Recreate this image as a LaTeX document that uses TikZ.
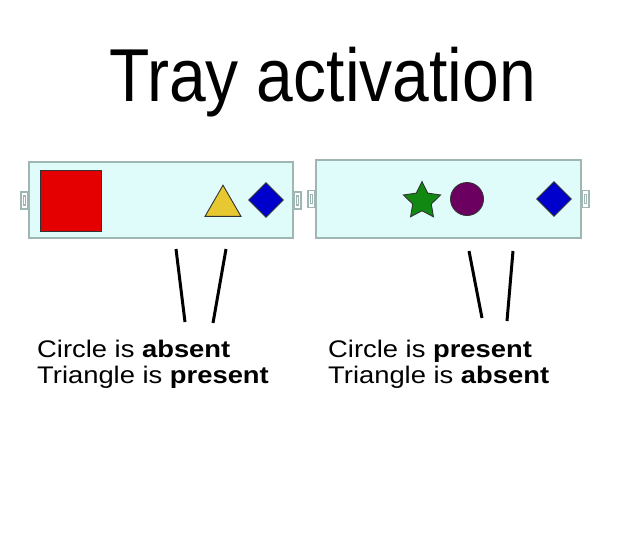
\documentclass[tikz,border=0pt]{standalone}
\usepackage{fontspec}
\setmainfont{Liberation Sans}
\newfontfamily\titlefont[FakeStretch=0.88]{Liberation Sans}
\newfontfamily\bodyfont[FakeStretch=1.14]{Liberation Sans}
\usepackage{xcolor}
\usetikzlibrary{shapes.geometric, calc}

\definecolor{trayFill}{RGB}{224,252,250}
\definecolor{trayEdge}{RGB}{160,182,178}
\definecolor{redSq}{RGB}{228,0,0}
\definecolor{yellowTri}{RGB}{232,200,48}
\definecolor{blueDia}{RGB}{0,0,204}
\definecolor{greenStar}{RGB}{17,136,17}
\definecolor{purpleDot}{RGB}{108,0,96}

\begin{document}
\begin{tikzpicture}[x=1pt, y=-1pt,
    % ── trays ──
    tray/.style      = {draw=trayEdge, fill=trayFill, line width=1.4pt,
                        inner sep=0pt},
    plugline/.style  = {draw=trayEdge, fill=white, line width=1.4pt},
    plug/.pic        = {\draw[plugline] (-3.6,-8.5) rectangle (3.6,8.5);
                        \draw[plugline] (-1.1,-4.5) rectangle (1.1,4.5);},
    % ── shapes ──
    shapeBox/.style  = {draw=black!80, line width=0.9pt, inner sep=0pt},
    % ── lines and text ──
    pointer/.style   = {line width=3pt, black},
    bodyLabel/.style = {font=\bodyfont\fontsize{24}{28}\selectfont,
                        anchor=base west, inner sep=0pt},
]
\useasboundingbox (0,0) rectangle (619,542);

% =====================================================================
% Title
% =====================================================================
\node[font=\titlefont\fontsize{75}{80}\selectfont, anchor=base,
      inner sep=0pt] (title) at (322.5,101) {Tray activation};

% =====================================================================
% Tray 1   (x = 29 – 293)
% =====================================================================
\node[tray, minimum width=264, minimum height=76] (t1) at (161,200) {};
\pic at ($(t1.west)+(-3.8,0.5)$) {plug};
\pic at ($(t1.east)+(3.8,0.5)$) {plug};

\node[shapeBox, fill=redSq, minimum size=61] (sq) at (70.5,200.5) {};
\node[shapeBox, fill=yellowTri, regular polygon, regular polygon sides=3,
      minimum size=41.6] (tri) at (223,206) {};
\node[shapeBox, fill=blueDia, diamond, minimum size=35] (dia1)
  at (266,200) {};

% =====================================================================
% Tray 2   (x = 316 – 581)
% =====================================================================
\node[tray, minimum width=265, minimum height=78] (t2) at (448.5,199) {};
\pic at ($(t2.west)+(-3.8,0)$) {plug};
\pic at ($(t2.east)+(3.8,0)$) {plug};

\node[shapeBox, fill=greenStar, star, star points=5,
      star point ratio=2.0, minimum size=39] (star) at (422,201) {};
\node[shapeBox, fill=purpleDot, circle, minimum size=33] (dot)
  at (467,199) {};
\node[shapeBox, fill=blueDia, diamond, minimum size=35] (dia2)
  at (554,199) {};

% =====================================================================
% Pointers
% =====================================================================
\coordinate (a1) at (176,249);  \coordinate (a2) at (185,322);
\coordinate (b1) at (226,249);  \coordinate (b2) at (213,323);
\coordinate (c1) at (469,251);  \coordinate (c2) at (482,318);
\coordinate (d1) at (513,251);  \coordinate (d2) at (507,321);
\draw[pointer] (a1) -- (a2);
\draw[pointer] (b1) -- (b2);
\draw[pointer] (c1) -- (c2);
\draw[pointer] (d1) -- (d2);

% =====================================================================
% Labels
% =====================================================================
\node[bodyLabel] (lblA1) at (37,357) {Circle is \textbf{absent}};
\node[bodyLabel] (lblA2) at (37,383) {Triangle is \textbf{present}};
\node[bodyLabel] (lblB1) at (328,357) {Circle is \textbf{present}};
\node[bodyLabel] (lblB2) at (328,383) {Triangle is \textbf{absent}};

\end{tikzpicture}
\end{document}
